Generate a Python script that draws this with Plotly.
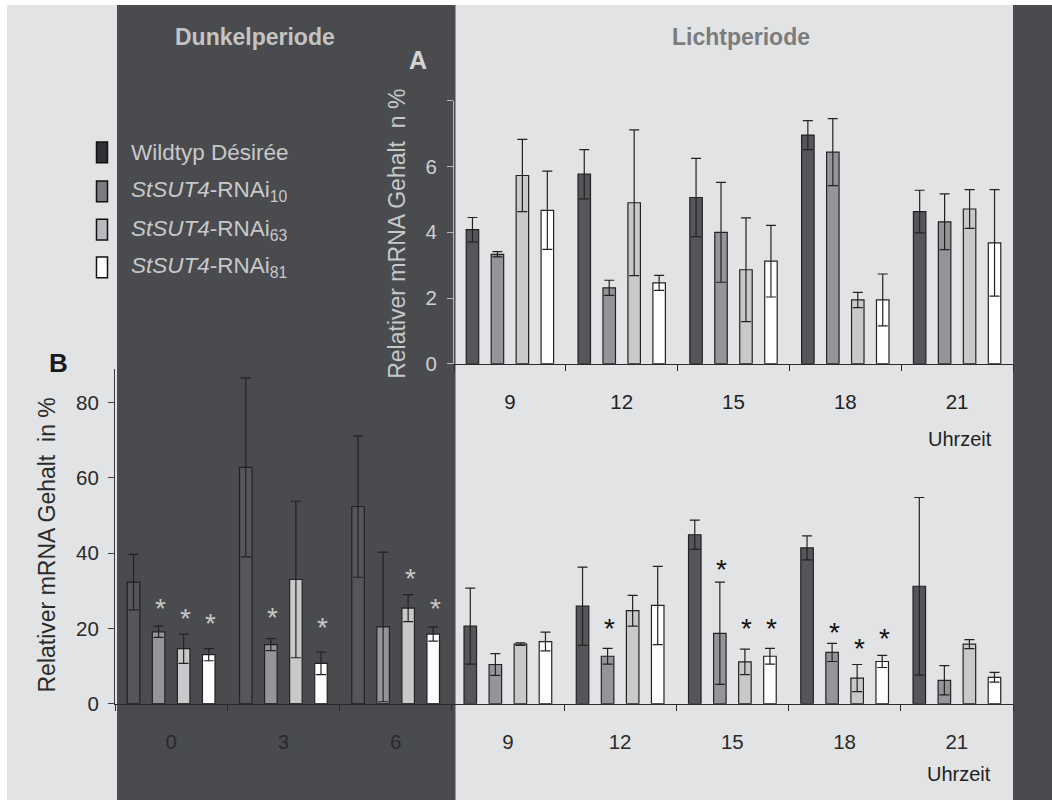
import plotly.graph_objects as go

# ---------------- data ----------------
series_names = ["Wildtyp Désirée", "<i>StSUT4</i>-RNAi<sub>10</sub>",
                "<i>StSUT4</i>-RNAi<sub>63</sub>", "<i>StSUT4</i>-RNAi<sub>81</sub>"]

times_A = ["9", "12", "15", "18", "21"]
wt_A = [4.08, 5.77, 5.06, 6.96, 4.63]
wt_A_err = [0.37, 0.75, 1.19, 0.44, 0.65]
r10_A = [3.33, 2.31, 4.00, 6.44, 4.32]
r10_A_err = [0.08, 0.23, 1.52, 1.02, 0.85]
r63_A = [5.73, 4.90, 2.86, 1.94, 4.71]
r63_A_err = [1.10, 2.22, 1.58, 0.23, 0.59]
r81_A = [4.67, 2.46, 3.12, 1.94, 3.68]
r81_A_err = [1.19, 0.23, 1.09, 0.79, 1.62]

times_B = ["0", "3", "6", "9", "12", "15", "18", "21"]
wt_B = [32.3, 62.8, 52.4, 20.6, 25.9, 44.9, 41.4, 31.2]
wt_B_err = [7.4, 23.8, 18.8, 10.1, 10.4, 3.9, 3.2, 23.6]
r10_B = [19.1, 15.7, 20.4, 10.4, 12.6, 18.7, 13.6, 6.2]
r10_B_err = [1.5, 1.6, 19.9, 2.9, 2.1, 13.6, 2.4, 3.9]
r63_B = [14.6, 33.0, 25.4, 15.8, 24.7, 11.1, 6.8, 15.8]
r63_B_err = [3.9, 20.8, 3.6, 0.35, 4.1, 3.4, 3.6, 1.2]
r81_B = [13.0, 10.7, 18.5, 16.5, 26.1, 12.6, 11.2, 7.0]
r81_B_err = [1.6, 3.0, 1.9, 2.5, 10.4, 2.1, 1.6, 1.3]

# significance asterisks (time, series index, height)
star_times = ["0", "0", "0", "3", "3", "6", "6", "12", "15", "15", "15", "18", "18", "18"]
star_series = [1, 2, 3, 1, 3, 2, 3, 1, 1, 2, 3, 1, 2, 3]
star_y = [28.4, 25.8, 24.6, 26.0, 23.3, 36.5, 28.4, 23.2, 38.9, 23.2, 23.2, 22.0, 17.9, 20.5]
dark_times = ["0", "3", "6"]

# ---------------- style ----------------
W, H = 1052, 811
FONT = "Liberation Sans, Arial, sans-serif"
LIGHT_BG = "#e2e3e5"
DARK_BG = "#4a4b4f"
bar_colors = ["#555659", "#939598", "#c8c9cb", "#ffffff"]
legend_colors = ["#2f3033", "#7b7c7f", "#b9babd", "#ffffff"]
EDGE = "#222222"
BARGAP = 0.107
BARGROUPGAP = 0.5


def px(x):
    return x / W


def py(y):
    return 1 - y / H


fig = go.Figure()

A_vals = [(wt_A, wt_A_err), (r10_A, r10_A_err), (r63_A, r63_A_err), (r81_A, r81_A_err)]
B_vals = [(wt_B, wt_B_err), (r10_B, r10_B_err), (r63_B, r63_B_err), (r81_B, r81_B_err)]

for i, (vals, errs) in enumerate(B_vals):
    fig.add_trace(go.Bar(
        x=times_B, y=vals, xaxis="x", yaxis="y", name=series_names[i], showlegend=False,
        marker=dict(color=bar_colors[i], line=dict(color=EDGE, width=1.2)),
        error_y=dict(type="data", array=errs, symmetric=True, color=EDGE, thickness=1.2, width=5),
    ))
for i, (vals, errs) in enumerate(A_vals):
    fig.add_trace(go.Bar(
        x=times_A, y=vals, xaxis="x2", yaxis="y2", name=series_names[i], showlegend=False,
        marker=dict(color=bar_colors[i], line=dict(color=EDGE, width=1.2)),
        error_y=dict(type="data", array=errs, symmetric=True, color=EDGE, thickness=1.2, width=5),
    ))

# ---------------- background panels ----------------
shapes = [
    dict(type="rect", xref="paper", yref="paper", x0=px(7), x1=px(1052), y0=py(811), y1=py(5),
         fillcolor=LIGHT_BG, line_width=0, layer="below"),
    dict(type="rect", xref="paper", yref="paper", x0=px(117), x1=px(455.5), y0=py(811), y1=py(5),
         fillcolor=DARK_BG, line_width=0, layer="below"),
    dict(type="rect", xref="paper", yref="paper", x0=px(1013), x1=px(1052), y0=py(811), y1=py(5),
         fillcolor=DARK_BG, line_width=0, layer="below"),
]

# legend (manual)
annotations = []
leg_y = [154.5, 194, 232.7, 271]
for i, name in enumerate(series_names):
    shapes.append(dict(type="rect", xref="paper", yref="paper",
                       x0=px(96.5), x1=px(107.5), y0=py(leg_y[i] + 10.5), y1=py(leg_y[i] - 10.5),
                       fillcolor=legend_colors[i], line=dict(color="#111111", width=1.5), layer="above"))
    annotations.append(dict(xref="paper", yref="paper", x=px(129), y=py(leg_y[i]), text=name,
                            showarrow=False, xanchor="left", yanchor="middle",
                            font=dict(family=FONT, size=22.5, color="#c8c8c8")))


# texts
def txt(x, y, s, size, color, bold=False, angle=0):
    annotations.append(dict(xref="paper", yref="paper", x=px(x), y=py(y),
                            text=("<b>%s</b>" % s) if bold else s, showarrow=False,
                            xanchor="center", yanchor="middle", textangle=angle,
                            font=dict(family=FONT, size=size, color=color)))


txt(255, 38, "Dunkelperiode", 23, "#c4c4c4", bold=True)
txt(741, 38, "Lichtperiode", 23, "#7c7c7c", bold=True)
txt(418, 61, "A", 25, "#d4d4d4", bold=True)
txt(58, 368, "B", 26, "#1a1a1a", bold=True)
txt(397, 237, "Relativer mRNA Gehalt  n %", 23, "#c8c8c8", angle=-90)
txt(47, 553, "Relativer mRNA Gehalt  in %", 23, "#2a2a2a", angle=-90)
txt(960, 445, "Uhrzeit", 20, "#222222")
txt(959, 785, "Uhrzeit", 20, "#222222")

# asterisks (x given as category index to avoid numeric-string ambiguity)
group_px_B = (1013 - 115) / len(times_B)
slot_px = group_px_B * (1 - BARGAP) / 4
for t, s, yv in zip(star_times, star_series, star_y):
    annotations.append(dict(xref="x", yref="y", x=times_B.index(t), y=yv, text="*", showarrow=False,
                            xanchor="center", yanchor="middle", xshift=(s - 1.5) * slot_px + 2,
                            yshift=-12,
                            font=dict(family=FONT, size=28,
                                      color="#c8c8c8" if t in dark_times else "#111111")))

axis_common = dict(showgrid=False, zeroline=False, showline=True, ticks="outside", ticklen=6,
                   tickwidth=1)

fig.update_layout(
    width=W, height=H, margin=dict(l=0, r=0, t=0, b=0),
    paper_bgcolor="white", plot_bgcolor="rgba(0,0,0,0)",
    barmode="group", bargap=BARGAP, bargroupgap=BARGROUPGAP,
    showlegend=False, font=dict(family=FONT),
    xaxis=dict(domain=[px(115), px(1013)], anchor="y", type="category",
               categoryorder="array", categoryarray=times_B, range=[-0.5, len(times_B) - 0.5],
               tickson="boundaries", linecolor="#2a2a2a", tickcolor="#2a2a2a", linewidth=1.2,
               tickfont=dict(family=FONT, size=20.5, color="#2a2a2a"), ticklabelstandoff=20,
               **axis_common),
    yaxis=dict(domain=[py(713.3), py(374.3)], anchor="x", range=[0, 88.9],
               tickvals=[0, 20, 40, 60, 80], linecolor="#3a3a3a", tickcolor="#3a3a3a", linewidth=1.2,
               tickfont=dict(family=FONT, size=20.5, color="#2a2a2a"), ticklabelstandoff=5,
               **axis_common),
    xaxis2=dict(domain=[px(454), px(1013)], anchor="y2", type="category",
                categoryorder="array", categoryarray=times_A, range=[-0.5, len(times_A) - 0.5],
                tickson="boundaries", linecolor="#2a2a2a", tickcolor="#2a2a2a", linewidth=1.2,
                tickfont=dict(family=FONT, size=20.5, color="#222222"), ticklabelstandoff=20,
                **axis_common),
    yaxis2=dict(domain=[py(368.7), py(102.3)], anchor="x2", range=[0, 8],
                tickvals=[0, 2, 4, 6, 8], ticktext=["0", "2", "4", "6", ""],
                linecolor="#b8b8b8", tickcolor="#b8b8b8", linewidth=1.2,
                tickfont=dict(family=FONT, size=20.5, color="#d0d0d0"), ticklabelstandoff=6,
                **axis_common),
    shapes=shapes, annotations=annotations,
)

fig.write_html("out.html", config={"displayModeBar": False},
               post_script="document.body.style.margin='0';document.body.style.overflow='hidden';")
